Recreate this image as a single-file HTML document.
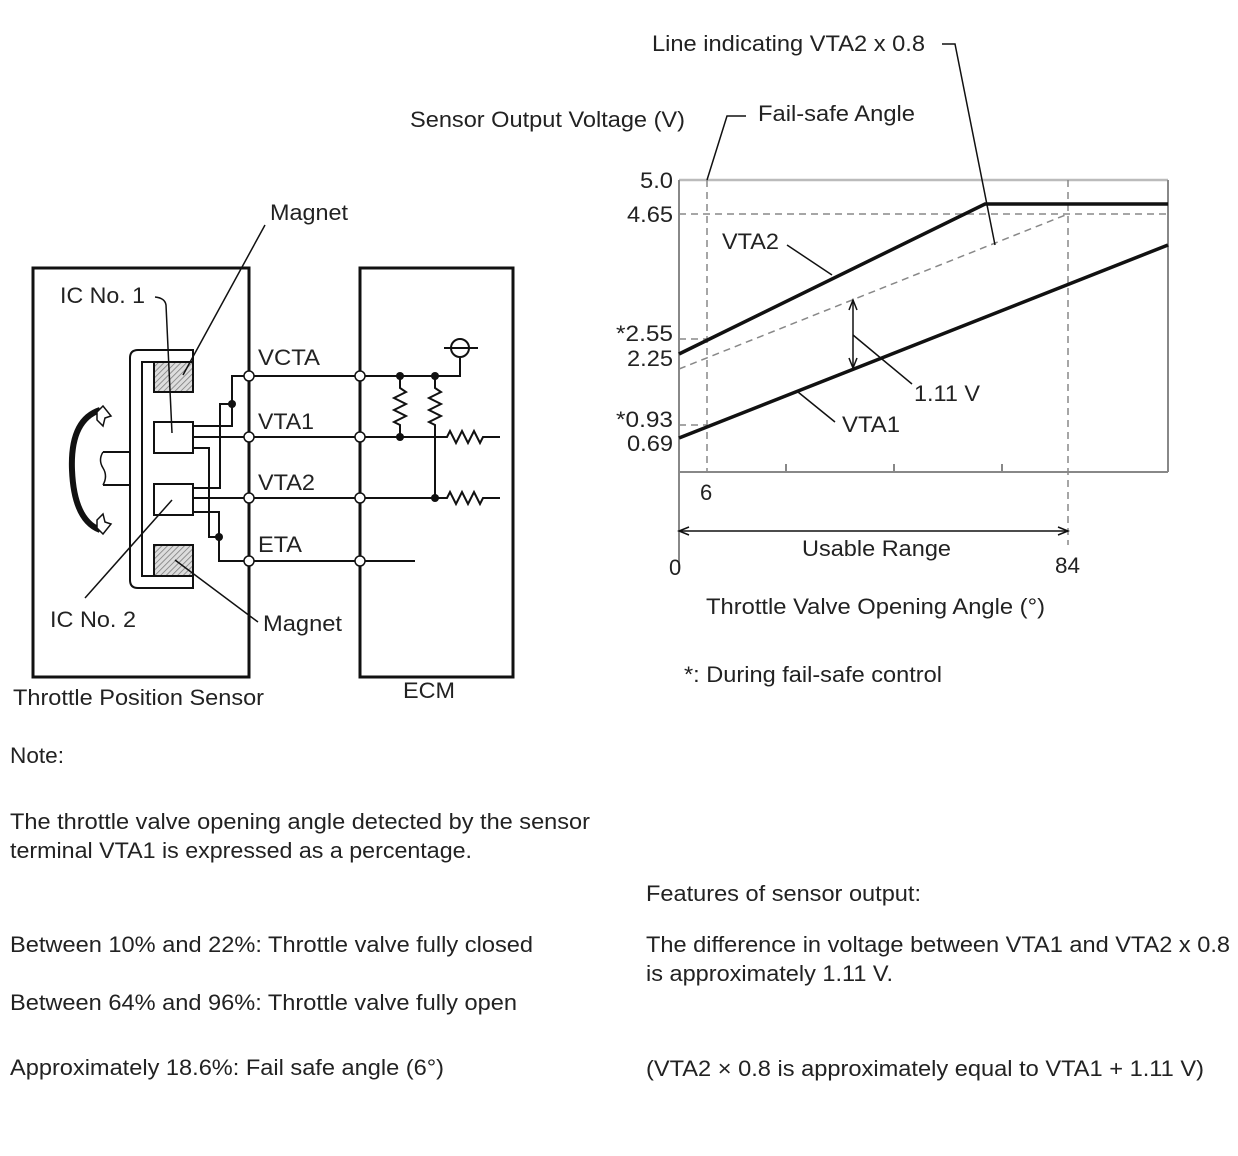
<!DOCTYPE html>
<html><head><meta charset="utf-8"><style>
html,body{margin:0;padding:0;background:#fff;}
svg{display:block;}
text{font-family:"Liberation Sans",Arial,sans-serif;font-size:22px;fill:#222;}
</style></head><body>
<svg width="1238" height="1156" viewBox="0 0 1238 1156" xmlns="http://www.w3.org/2000/svg">
<defs>
<pattern id="hatch" width="4" height="4" patternUnits="userSpaceOnUse" patternTransform="rotate(45)">
<rect width="4" height="4" fill="#ddd"/><line x1="0" y1="0" x2="0" y2="4" stroke="#777" stroke-width="1.5"/>
</pattern>
</defs>
<g fill="none" stroke="#111">
<rect x="33" y="268" width="216" height="409" stroke-width="3"/>
<rect x="360" y="268" width="153" height="409" stroke-width="3"/>
<path d="M193,350 H138 Q130,350 130,358 V580 Q130,588 138,588 H193 V576 H142 V362 H193 Z" stroke-width="2" fill="#fff"/>
<rect x="154" y="362" width="39" height="30" fill="url(#hatch)" stroke-width="2"/>
<rect x="154" y="545" width="39" height="31" fill="url(#hatch)" stroke-width="2"/>
<rect x="154" y="422" width="39" height="31" fill="#fff" stroke-width="2"/>
<rect x="154" y="484" width="39" height="31" fill="#fff" stroke-width="2"/>
<path d="M130,452 H103 M130,485 H103" stroke-width="2"/>
<path d="M103,452 q-5,8 0,16 q5,8 0,17" stroke-width="1.5"/>
<path d="M100,410 Q70,420 72,470 Q74,520 100,530" stroke-width="6"/>
<path d="M97,412 l6,-6 l8,10 l-6,2 l-2,8 l-6,-6 z" stroke-width="1.5" fill="#fff"/>
<path d="M97,528 l6,6 l8,-10 l-6,-2 l-2,-8 l-6,6 z" stroke-width="1.5" fill="#fff"/>
<g stroke-width="2">
<path d="M249,376 H232 V426 H193"/>
<path d="M232,404 H220 V488 H193"/>
<path d="M193,437 H400"/>
<path d="M193,448 H209 V537 H219"/>
<path d="M193,512 H219 V561 H249"/>
<path d="M193,498 H435"/>
<path d="M249,376 H460 V358"/>
<path d="M249,561 H415"/>
<path d="M400,376 V388 l6,4 l-12,6 l12,6 l-12,6 l12,6 l-12,6 l6,3 V437"/>
<path d="M435,376 V388 l6,4 l-12,6 l12,6 l-12,6 l12,6 l-12,6 l6,3 V498"/>
<path d="M400,437 H447 l3,-6 l6,12 l6,-12 l6,12 l6,-12 l6,12 l3,-6 H500"/>
<path d="M435,498 H447 l3,-6 l6,12 l6,-12 l6,12 l6,-12 l6,12 l3,-6 H500"/>
<circle cx="460" cy="348" r="9"/>
<path d="M444,348 H478"/>
</g>
<g fill="#fff" stroke-width="1.5">
<circle cx="249" cy="376" r="5"/><circle cx="249" cy="437" r="5"/><circle cx="249" cy="498" r="5"/><circle cx="249" cy="561" r="5"/>
<circle cx="360" cy="376" r="5"/><circle cx="360" cy="437" r="5"/><circle cx="360" cy="498" r="5"/><circle cx="360" cy="561" r="5"/>
</g>
<g fill="#111" stroke="none">
<circle cx="232" cy="404" r="4"/><circle cx="219" cy="537" r="4"/>
<circle cx="400" cy="376" r="4"/><circle cx="435" cy="376" r="4"/><circle cx="400" cy="437" r="4"/><circle cx="435" cy="498" r="4"/>
</g>
<g stroke-width="1.5">
<path d="M155,297 Q165,298 166,305 L172,433"/>
<path d="M265,225 L183,375"/>
<path d="M85,598 L172,500"/>
<path d="M258,622 L175,560"/>
</g>
</g>
<g lengthAdjust="spacingAndGlyphs">
<text x="270" y="220" textLength="78" lengthAdjust="spacingAndGlyphs">Magnet</text>
<text x="60" y="303" textLength="85" lengthAdjust="spacingAndGlyphs">IC No. 1</text>
<text x="258" y="365" textLength="62" lengthAdjust="spacingAndGlyphs">VCTA</text>
<text x="258" y="429" textLength="56" lengthAdjust="spacingAndGlyphs">VTA1</text>
<text x="258" y="490" textLength="57" lengthAdjust="spacingAndGlyphs">VTA2</text>
<text x="258" y="552" textLength="44" lengthAdjust="spacingAndGlyphs">ETA</text>
<text x="50" y="627" textLength="86" lengthAdjust="spacingAndGlyphs">IC No. 2</text>
<text x="263" y="631" textLength="79" lengthAdjust="spacingAndGlyphs">Magnet</text>
<text x="13" y="705" textLength="251" lengthAdjust="spacingAndGlyphs">Throttle Position Sensor</text>
<text x="403" y="698" textLength="52" lengthAdjust="spacingAndGlyphs">ECM</text>
</g>

<g fill="none">
<path d="M679,180 H1168" stroke="#bbb" stroke-width="2.5"/>
<path d="M679,180 V570 M1168,180 V472 M679,472 H1168" stroke="#888" stroke-width="2"/>
<path d="M786,472 v-8 M894,472 v-8 M1002,472 v-8" stroke="#888" stroke-width="2"/>
<g stroke="#888" stroke-width="1.5" stroke-dasharray="7,5">
<path d="M707,180 V472"/>
<path d="M1068,180 V545"/>
<path d="M679,214 H1168"/>
<path d="M679,339 H707 M679,425 H707"/>
<path d="M679,369 L1068,214"/>
</g>
<path d="M679,354 L985,204 H1168" stroke="#111" stroke-width="3.5"/>
<path d="M679,438 L1168,245" stroke="#111" stroke-width="3.5"/>
<g stroke="#111" stroke-width="1.5">
<path d="M853,300 V368"/>
<path d="M849,310 L853,300 L857,310 M849,358 L853,368 L857,358"/>
<path d="M853,335 L912,384"/>
<path d="M787,245 L832,275"/>
<path d="M798,392 L835,422"/>
<path d="M679,531 H1068"/>
<path d="M689,527 L679,531 L689,535 M1058,527 L1068,531 L1058,535"/>
<path d="M942,44 H955 L995,245"/>
<path d="M746,116 H727 L707,180"/>
</g>
</g>
<text x="652" y="51" textLength="273" lengthAdjust="spacingAndGlyphs">Line indicating VTA2 x 0.8</text>
<text x="410" y="127" textLength="275" lengthAdjust="spacingAndGlyphs">Sensor Output Voltage (V)</text>
<text x="758" y="121" textLength="157" lengthAdjust="spacingAndGlyphs">Fail-safe Angle</text>
<text x="640" y="188" textLength="33" lengthAdjust="spacingAndGlyphs">5.0</text>
<text x="627" y="222" textLength="46" lengthAdjust="spacingAndGlyphs">4.65</text>
<text x="722" y="249" textLength="57" lengthAdjust="spacingAndGlyphs">VTA2</text>
<text x="616" y="341" textLength="57" lengthAdjust="spacingAndGlyphs">*2.55</text>
<text x="627" y="366" textLength="46" lengthAdjust="spacingAndGlyphs">2.25</text>
<text x="914" y="401" textLength="66" lengthAdjust="spacingAndGlyphs">1.11 V</text>
<text x="842" y="432" textLength="58" lengthAdjust="spacingAndGlyphs">VTA1</text>
<text x="616" y="427" textLength="57" lengthAdjust="spacingAndGlyphs">*0.93</text>
<text x="627" y="451" textLength="46" lengthAdjust="spacingAndGlyphs">0.69</text>
<text x="700" y="500">6</text>
<text x="802" y="556" textLength="149" lengthAdjust="spacingAndGlyphs">Usable Range</text>
<text x="669" y="575">0</text>
<text x="1055" y="573" textLength="25" lengthAdjust="spacingAndGlyphs">84</text>
<text x="706" y="614" textLength="339" lengthAdjust="spacingAndGlyphs">Throttle Valve Opening Angle (°)</text>
<text x="684" y="682" textLength="258" lengthAdjust="spacingAndGlyphs">*: During fail-safe control</text>

<text x="10" y="763" textLength="54" lengthAdjust="spacingAndGlyphs">Note:</text>
<text x="10" y="829" textLength="580" lengthAdjust="spacingAndGlyphs">The throttle valve opening angle detected by the sensor</text>
<text x="10" y="858" textLength="462" lengthAdjust="spacingAndGlyphs">terminal VTA1 is expressed as a percentage.</text>
<text x="10" y="952" textLength="523" lengthAdjust="spacingAndGlyphs">Between 10% and 22%: Throttle valve fully closed</text>
<text x="10" y="1010" textLength="507" lengthAdjust="spacingAndGlyphs">Between 64% and 96%: Throttle valve fully open</text>
<text x="10" y="1075" textLength="434" lengthAdjust="spacingAndGlyphs">Approximately 18.6%: Fail safe angle (6°)</text>
<text x="646" y="901" textLength="275" lengthAdjust="spacingAndGlyphs">Features of sensor output:</text>
<text x="646" y="952" textLength="584" lengthAdjust="spacingAndGlyphs">The difference in voltage between VTA1 and VTA2 x 0.8</text>
<text x="646" y="981" textLength="247" lengthAdjust="spacingAndGlyphs">is approximately 1.11 V.</text>
<text x="646" y="1076" textLength="558" lengthAdjust="spacingAndGlyphs">(VTA2 × 0.8 is approximately equal to VTA1 + 1.11 V)</text>
</svg>
</body></html>
